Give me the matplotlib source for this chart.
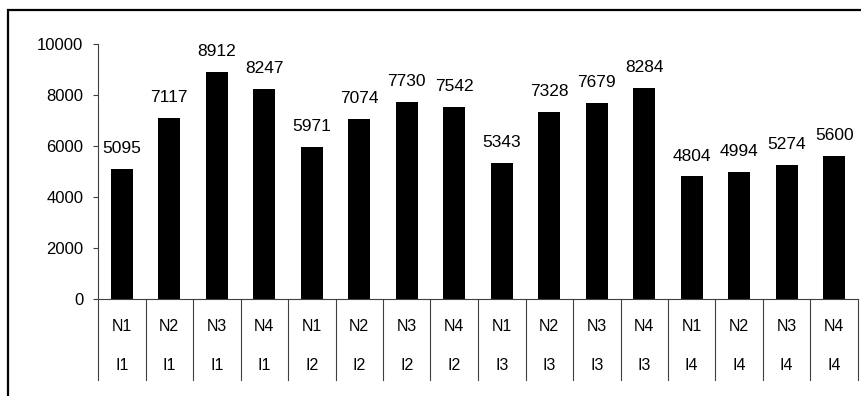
import matplotlib
matplotlib.use("Agg")
import matplotlib.pyplot as plt
from matplotlib.patches import Rectangle
import numpy as np

plt.rcParams['font.family'] = ['Liberation Sans', 'DejaVu Sans']

n_labels = ["N1", "N2", "N3", "N4"] * 4
i_labels = ["I1"] * 4 + ["I2"] * 4 + ["I3"] * 4 + ["I4"] * 4
values = [5095, 7117, 8912, 8247, 5971, 7074, 7730, 7542,
          5343, 7328, 7679, 8284, 4804, 4994, 5274, 5600]
yticks = [0, 2000, 4000, 6000, 8000, 10000]

W, H = 861, 396
fig = plt.figure(figsize=(W / 100, H / 100), dpi=100)
fig.patches.append(Rectangle((8 / W, -0.5), 2.0, 1 - 10 / H + 0.5,
                             transform=fig.transFigure, fill=False,
                             edgecolor='black', linewidth=1.6, zorder=0))

ax = fig.add_axes([98 / W, 1 - 299 / H, (858 - 98) / W, (299 - 44) / H])
x = np.arange(len(values))
ax.bar(x, values, width=0.47, color='black', zorder=2)
ax.set_xlim(-0.5, len(values) - 0.5)
ax.set_ylim(0, 10000)
ax.set_yticks(yticks)
ax.set_yticklabels([str(t) for t in yticks], fontsize=12)
ax.tick_params(axis='y', length=3.6, width=0.8, pad=7, color='#404040')
ax.set_xticks([])
for s in ['top', 'right']:
    ax.spines[s].set_visible(False)
ax.spines['left'].set_color('#404040')
ax.spines['bottom'].set_color('#404040')
ax.spines['left'].set_linewidth(0.8)
ax.spines['bottom'].set_linewidth(0.8)

for xi, v in zip(x, values):
    ax.annotate(str(v), (xi, v), xytext=(0, 11.5), textcoords='offset points',
                ha='center', va='baseline', fontsize=12.5)

trans = ax.get_xaxis_transform()
axh = 299 - 44
for b in np.arange(-0.5, len(values), 1.0):
    ax.plot([b, b], [0, -(380 - 299) / axh], transform=trans, color='#404040',
            linewidth=0.8, clip_on=False)
for xi, nl, il in zip(x, n_labels, i_labels):
    ax.text(xi, -(326.5 - 299) / axh, nl, transform=trans, ha='center', va='center', fontsize=11.5)
    ax.text(xi, -(365.5 - 299) / axh, il, transform=trans, ha='center', va='center', fontsize=11.5)

fig.savefig("out.png", dpi=100)
